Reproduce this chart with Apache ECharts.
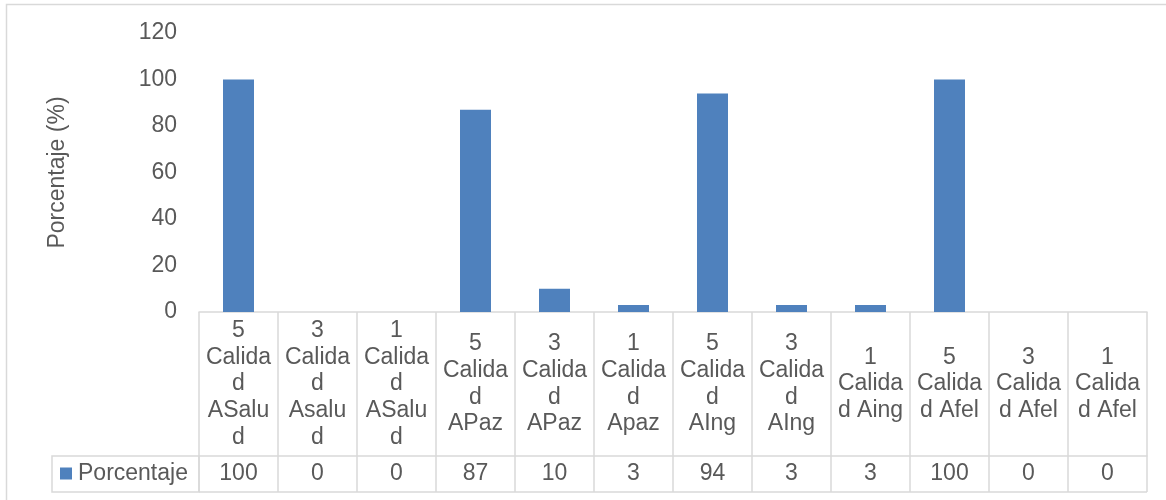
<!DOCTYPE html>
<html>
<head>
<meta charset="utf-8">
<title>Porcentaje por calidad</title>
<script src="https://cdn.jsdelivr.net/npm/echarts@6/dist/echarts.min.js"></script>
<style>
  html, body { margin: 0; padding: 0; background: #ffffff; }
  #chart { width: 1166px; height: 500px; }
</style>
</head>
<body>
<div id="chart"></div>
<script>
// Category labels, wrapped the way they appear in the header row of the data table
const categories = [
  '5\nCalida\nd\nASalu\nd',
  '3\nCalida\nd\nAsalu\nd',
  '1\nCalida\nd\nASalu\nd',
  '5\nCalida\nd\nAPaz',
  '3\nCalida\nd\nAPaz',
  '1\nCalida\nd\nApaz',
  '5\nCalida\nd\nAIng',
  '3\nCalida\nd\nAIng',
  '1\nCalida\nd Aing',
  '5\nCalida\nd Afel',
  '3\nCalida\nd Afel',
  '1\nCalida\nd Afel'
];
const seriesName = 'Porcentaje';
const porcentaje = [100, 0, 0, 87, 10, 3, 94, 3, 3, 100, 0, 0];
const yTicks = { min: 0, max: 120, interval: 20 };

const FONT = '"Liberation Sans", Arial, sans-serif';
const TEXT = '#595959';
const LINE = '#d9d9d9';
const FS = 23;

// plot area and data-table geometry
const grid = { left: 199, right: 19, top: 33, bottom: 188 };
const W = 1166, H = 500;
const axisY = H - grid.bottom;          // x axis / table top
const headerH = 144;                    // category header row
const rowH = 36;                        // value row
const legendCellLeft = 52;

const chart = echarts.init(document.getElementById('chart'), null, { renderer: 'canvas' });

chart.setOption({
  animation: false,
  backgroundColor: '#ffffff',
  textStyle: { fontFamily: FONT, color: TEXT },
  grid: grid,
  legend: {
    data: [seriesName],
    left: 60,
    top: axisY + headerH + 6,
    icon: 'rect',
    itemWidth: 12,
    itemHeight: 12,
    itemGap: 0,
    padding: 0,
    textStyle: { fontFamily: FONT, fontSize: FS, color: TEXT, padding: [0, 0, 0, 1] }
  },
  xAxis: [
    {
      type: 'category',
      data: categories,
      position: 'bottom',
      axisLine: { show: true, lineStyle: { color: LINE, width: 1.5 } },
      axisTick: { show: true, interval: 0, length: headerH + rowH, lineStyle: { color: LINE, width: 1.5 } },
      axisLabel: {
        interval: 0,
        margin: headerH / 2,
        verticalAlign: 'middle',
        align: 'center',
        fontFamily: FONT,
        fontSize: FS,
        lineHeight: 26.7,
        color: TEXT
      },
      splitLine: { show: false }
    },
    {
      type: 'category',
      data: porcentaje.map(String),
      position: 'bottom',
      offset: headerH,
      axisLine: { show: true, lineStyle: { color: LINE, width: 1.5 } },
      axisTick: { show: false },
      axisLabel: {
        interval: 0,
        margin: rowH / 2,
        verticalAlign: 'middle',
        align: 'center',
        fontFamily: FONT,
        fontSize: FS,
        color: TEXT
      }
    }
  ],
  yAxis: {
    type: 'value',
    min: yTicks.min,
    max: yTicks.max,
    interval: yTicks.interval,
    name: 'Porcentaje (%)',
    nameLocation: 'middle',
    nameGap: 130,
    nameTextStyle: { fontFamily: FONT, fontSize: FS, color: TEXT },
    axisLine: { show: false },
    axisTick: { show: false },
    splitLine: { show: false },
    axisLabel: { margin: 22, fontFamily: FONT, fontSize: FS, color: TEXT }
  },
  series: [
    {
      name: seriesName,
      type: 'bar',
      data: porcentaje,
      barWidth: 31,
      itemStyle: { color: '#4f81bd' }
    }
  ],
  graphic: [
    // outer chart frame
    {
      type: 'rect',
      shape: { x: 6.5, y: 4.5, width: 1200, height: 600 },
      style: { fill: 'none', stroke: LINE, lineWidth: 1.5 },
      silent: true
    },
    // legend cell of the data table
    {
      type: 'rect',
      shape: { x: legendCellLeft, y: axisY + headerH, width: grid.left - legendCellLeft, height: rowH },
      style: { fill: 'none', stroke: LINE, lineWidth: 1.5 },
      silent: true
    },
    // bottom edge of the data table
    {
      type: 'line',
      shape: { x1: grid.left, y1: axisY + headerH + rowH, x2: W - grid.right, y2: axisY + headerH + rowH },
      style: { stroke: LINE, lineWidth: 1.5 },
      silent: true
    }
  ]
});
</script>
</body>
</html>
